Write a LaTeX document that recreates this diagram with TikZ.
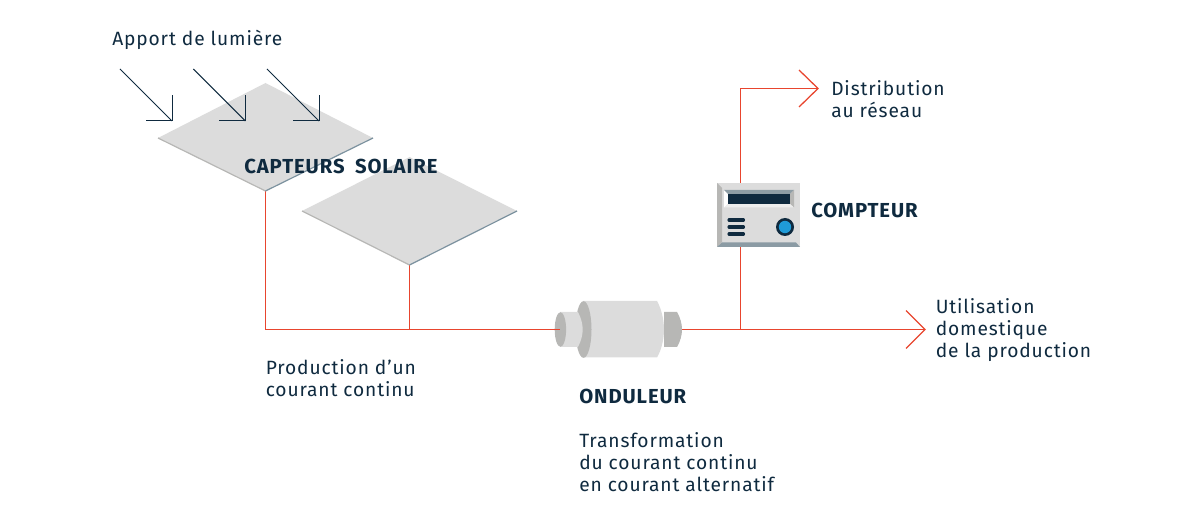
\documentclass[tikz,border=0pt]{standalone}
\usepackage{fontspec}
\setmainfont[LetterSpace=4.5]{Fira Sans}
\usetikzlibrary{calc}
\definecolor{navy}{HTML}{0F2A3F}
\definecolor{redl}{HTML}{E8452E}
\definecolor{panel}{HTML}{DCDCDC}
\definecolor{midgray}{HTML}{B7B7B5}
\definecolor{edgeb}{HTML}{7C929F}
\definecolor{blue}{HTML}{1F9BD8}
\tikzset{
  wire/.style={color=redl,line width=0.95pt},
  ray/.style={color=navy,line width=0.75pt},
  lab/.style={anchor=base west,align=left,text=navy,font=\fontsize{14.4pt}{16.5pt}\selectfont,inner sep=0pt},
  tag/.style={anchor=base west,text=navy,font=\fontsize{15.2pt}{16pt}\selectfont\bfseries,inner sep=0pt},
}
\begin{document}
\begin{tikzpicture}[x=0.75pt,y=-0.75pt]
\useasboundingbox (0,0) rectangle (1200,520);
% coordinates
\coordinate (p1t) at (265.5,83); \coordinate (p1l) at (158,138); \coordinate (p1r) at (373,138); \coordinate (p1b) at (265.5,191);
\coordinate (p2t) at (409.5,157); \coordinate (p2l) at (302,211); \coordinate (p2r) at (517,211); \coordinate (p2b) at (409.5,265);
\coordinate (j1) at (265.5,329.5); \coordinate (j2) at (409.5,329.5);
\coordinate (invin) at (560,329.5); \coordinate (invout) at (682,329.5);
\coordinate (j3) at (740.5,329.5); \coordinate (endh) at (925,329.5);
\coordinate (mb) at (740.5,247); \coordinate (mt) at (740.5,183);
\coordinate (c1) at (740.5,88.5); \coordinate (endv) at (818,88.5);
% wires
\draw[wire] (p1b)--(j1)--(invin);
\draw[wire] (p2b)--(j2);
\draw[wire] (invin)--(endh);
\draw[wire] (j3)--(mb);
\draw[wire] (mt)--(c1)--(endv);
\draw[wire] (906,310.5)--(endh)--(906,348.5);
\draw[wire] (799,70)--(endv)--(799,107);
% panels
\fill[panel] (p2t)--(p2r)--(p2b)--(p2l)--cycle;
\draw[color=midgray,line width=0.9pt] (p2l)--(p2b); \draw[color=edgeb,line width=0.9pt] (p2b)--(p2r);
\fill[panel] (p1t)--(p1r)--(p1b)--(p1l)--cycle;
\draw[color=midgray,line width=0.9pt] (p1l)--(p1b); \draw[color=edgeb,line width=0.9pt] (p1b)--(p1r);
% rays
\foreach \n/\x in {a/120,b/193.3,c/267}{
  \coordinate (\n s) at (\x,69); \coordinate (\n e) at (\x+52,121);
  \draw[ray] (\n s)--(\n e);
  \draw[ray,line join=miter] (\x+26,121)--(\n e)--(\x+52,95);
}
% inverter
\fill[midgray] (664,312) -- (677,312) .. controls (680.5,318) and (682,324) .. (682,329.5) .. controls (682,335) and (680.5,341) .. (677,347) -- (664,347) -- cycle;
\fill[panel] (583,301) -- (657,301) .. controls (661.5,309) and (664,320) .. (664,329.5) .. controls (664,339) and (661.5,350) .. (657,357.5) -- (583,357.5) -- cycle;
\fill[midgray] (583.5,329.5) ellipse [x radius=8,y radius=28.3];
\fill[panel] (560,312) -- (578,312) .. controls (581,318) and (582.7,324) .. (582.7,329.5) .. controls (582.7,335) and (581,341) .. (578,347) -- (560,347) -- cycle;
\fill[midgray] (560.4,329.5) ellipse [x radius=5.7,y radius=17.3];
\draw[wire] (550,329.5)--(invin);
% meter
\fill[panel] (717,183) rectangle (800,247);
\fill[midgray] (717,183)--(722,188)--(722,242)--(717,247)--cycle;
\fill[edgeb!75!midgray] (717,247)--(722,242.5)--(796,242.5)--(800,247)--cycle;
\fill[white] (724,190)--(728,194)--(728,204)--(724,207.5)--cycle;
\fill[edgeb!70!midgray] (724,190)--(794,190)--(790,194)--(728,194)--cycle;
\fill[midgray] (794,190)--(794,207.5)--(790,204)--(790,194)--cycle;
\fill[white!50!panel] (724,207.5)--(794,207.5)--(790,204)--(728,204)--cycle;
\fill[navy] (728,194) rectangle (790,204);
\foreach \y in {220,227,234}{\draw[color=navy,line width=2.3pt,line cap=round] (729,\y)--(743.5,\y);}
\fill[navy] (785,227) circle [radius=9];
\fill[blue] (785,227) circle [radius=6.2];
% labels
\node[lab] (t1) at (112,45.5) {Apport de lumière};
\node[tag] (t2) at (244,173.5) {CAPTEURS\hspace{3.5pt} SOLAIRE};
\node[tag] (t3) at (811,218) {COMPTEUR};
\node[tag] (t4) at (579,403.5) {ONDULEUR};
\node[lab,anchor=north west] (t5) at (831,80) {Distribution\\au réseau};
\node[lab,anchor=north west] (t6) at (935.5,298) {Utilisation\\domestique\\de la production};
\node[lab,anchor=north west] (t7) at (265.5,359.5) {Production d'un\\courant continu};
\node[lab,anchor=north west] (t8) at (579,432) {Transformation\\du courant continu\\en courant alternatif};
\end{tikzpicture}
\end{document}
